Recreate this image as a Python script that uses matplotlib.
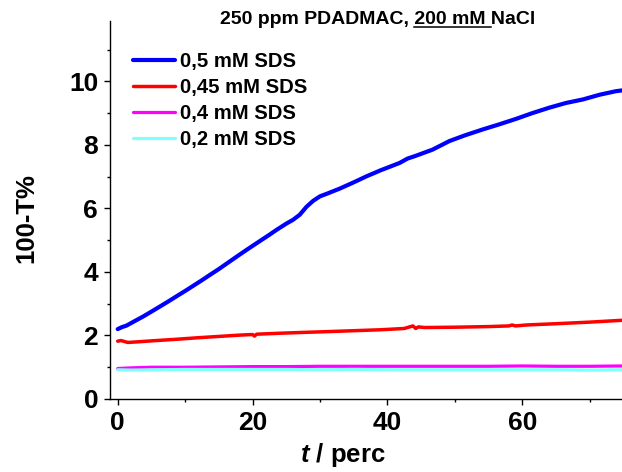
import matplotlib
matplotlib.use('Agg')
import matplotlib.pyplot as plt
from matplotlib.ticker import MultipleLocator
from matplotlib.lines import Line2D

plt.rcParams['font.family'] = ['Liberation Sans', 'DejaVu Sans']
plt.rcParams['font.weight'] = 'bold'
plt.rcParams['mathtext.fontset'] = 'custom'
plt.rcParams['mathtext.it'] = 'Liberation Sans:italic:bold'
plt.rcParams['mathtext.rm'] = 'Liberation Sans:bold'

# ---------------- data ----------------
labels = ['0,5 mM SDS', '0,45 mM SDS', '0,4 mM SDS', '0,2 mM SDS']
colors = ['#0000FF', '#FF0000', '#FF00FF', '#80FFFF']

t_05 = [0, 0.6, 1.3, 2.5, 3.8, 5, 7.5, 8.7, 10, 12.5, 13.7, 15, 17.5, 18.6, 20,
        22.5, 23.6, 25, 26, 27, 28, 29, 30, 31, 32.9, 35, 36.9, 39, 41.8, 43,
        44, 46.7, 49.2, 51.5, 54.2, 56.5, 59.1, 61.5, 64, 66.5, 69, 71.5, 73.9, 75]
y_05 = [2.20, 2.26, 2.31, 2.45, 2.60, 2.75, 3.07, 3.23, 3.40, 3.74, 3.91, 4.09,
        4.46, 4.62, 4.82, 5.17, 5.33, 5.52, 5.64, 5.80, 6.05, 6.24, 6.38, 6.46,
        6.62, 6.82, 7.01, 7.20, 7.43, 7.57, 7.64, 7.85, 8.12, 8.30, 8.49, 8.64,
        8.82, 9.00, 9.17, 9.32, 9.43, 9.58, 9.69, 9.72]

t_045 = [0, 0.5, 1.5, 3, 5, 8.7, 12, 15, 18, 20, 20.3, 20.6, 24, 28, 31, 35, 39,
         42.5, 43.3, 43.8, 44.2, 44.6, 45.5, 50, 55, 58, 58.5, 59, 60.6, 65, 70, 75]
y_045 = [1.82, 1.84, 1.78, 1.80, 1.83, 1.88, 1.93, 1.97, 2.01, 2.03, 1.98, 2.04,
         2.07, 2.10, 2.12, 2.15, 2.18, 2.22, 2.27, 2.30, 2.22, 2.27, 2.25, 2.26,
         2.28, 2.30, 2.33, 2.30, 2.33, 2.37, 2.42, 2.48]

t_04 = [0, 2, 5, 10, 15, 20, 25, 30, 35, 40, 45, 50, 55, 60, 65, 70, 75]
y_04 = [0.96, 0.98, 1.00, 1.00, 1.01, 1.02, 1.02, 1.03, 1.03, 1.03, 1.03, 1.03,
        1.03, 1.04, 1.03, 1.03, 1.04]

t_02 = [0, 2, 5, 10, 15, 20, 25, 30, 35, 40, 45, 50, 55, 60, 65, 70, 75]
y_02 = [0.92, 0.91, 0.92, 0.93, 0.93, 0.93, 0.93, 0.92, 0.93, 0.92, 0.92, 0.92,
        0.92, 0.92, 0.92, 0.91, 0.92]

x_ticks = [0, 20, 40, 60]
y_ticks = [0, 2, 4, 6, 8, 10]

title_pre = '250 ppm PDADMAC, '
title_ul = '200 mM '
title_post = 'NaCl'

# ---------------- figure ----------------
W, H = 622, 472
fig = plt.figure(figsize=(W / 100, H / 100), dpi=100)
ax = fig.add_axes([110 / W, (H - 399) / H, (W - 110) / W, (399 - 21) / H])

series = [(t_05, y_05), (t_045, y_045), (t_04, y_04), (t_02, y_02)]
lws = [3.0, 2.5, 2.3, 2.3]
for (t, y), c, lab, lw in zip(series, colors, labels, lws):
    ax.plot(t, y, color=c, lw=lw, label=lab, solid_capstyle='round')

ax.set_xlim(-1.14, 74.8)
ax.set_ylim(0, 11.9)
ax.set_xticks(x_ticks)
ax.set_yticks(y_ticks)
ax.xaxis.set_minor_locator(MultipleLocator(10))
ax.yaxis.set_minor_locator(MultipleLocator(1))
ax.spines['top'].set_visible(False)
ax.spines['right'].set_visible(False)
for s in ('left', 'bottom'):
    ax.spines[s].set_linewidth(1.0)
ax.tick_params(which='major', direction='out', length=4.5, width=1.0,
               labelsize=19, pad=4)
ax.tick_params(which='minor', direction='out', length=2.5, width=1.0)
for lbl in ax.get_xticklabels() + ax.get_yticklabels():
    lbl.set_fontweight('bold')

lfs = 14.6
leg = ax.legend(loc='upper left', bbox_to_anchor=((133 - 110) / 512, (399 - 52.5) / 378),
                frameon=False, borderpad=0, borderaxespad=0, fontsize=lfs,
                handlelength=2.08, handletextpad=0.25, labelspacing=0.34)
for txt in leg.get_texts():
    txt.set_fontweight('bold')

# axis labels
fig.text(26 / W, (H - 218) / H, '100-T%', rotation=90, ha='center', va='center',
         fontsize=18.5, fontweight='bold')
fig.text(343 / W, (H - 462) / H, r'$t$ / perc', ha='center', va='baseline',
         fontsize=18.5, fontweight='bold')

# title with underlined part
tfs = 14
x0 = 220 / W
yb = (H - 24.3) / H
full = title_pre + title_ul + title_post
fig.text(x0, yb, full, ha='left', va='baseline', fontsize=tfs, fontweight='bold')
fig.canvas.draw()
r = fig.canvas.get_renderer()


def width(s):
    tt = fig.text(0, 0, s, fontsize=tfs, fontweight='bold')
    w = tt.get_window_extent(r).width
    tt.remove()
    return w


ul_start = width(title_pre + '2') - width('2')
ul_end = width(title_pre + title_ul + 'N') - width('N')
x0px = x0 * W
yul = (H - 26.7) / H
fig.add_artist(Line2D([(x0px + ul_start) / W, (x0px + ul_end) / W], [yul, yul],
                      color='black', lw=1.1, transform=fig.transFigure))

fig.savefig('out.png', dpi=100)
